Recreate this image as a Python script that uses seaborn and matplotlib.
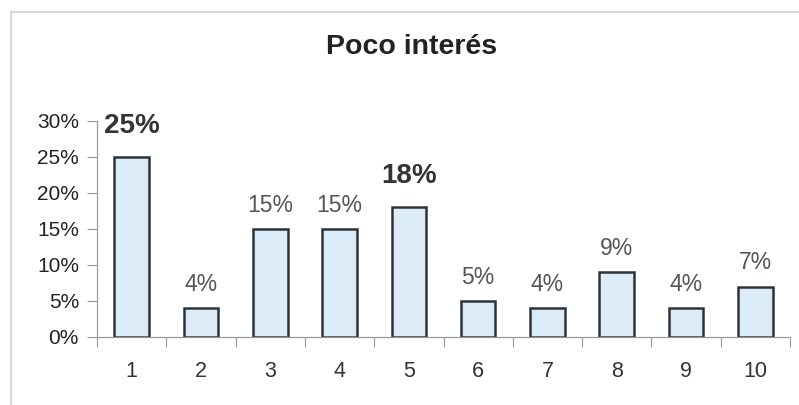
import matplotlib
matplotlib.use("Agg")
import matplotlib.pyplot as plt
from matplotlib.lines import Line2D
import seaborn as sns
import pandas as pd

# Survey answers: share of respondents per score (1-10)
categories = ["1", "2", "3", "4", "5", "6", "7", "8", "9", "10"]
shares = [25, 4, 15, 15, 18, 5, 4, 9, 4, 7]
highlight = ["1", "5"]  # scores whose labels are emphasised
yticks = [0, 5, 10, 15, 20, 25, 30]

df = pd.DataFrame({"score": categories, "share": shares})

sns.set_theme(style="white")
plt.rcParams["font.family"] = ["Liberation Sans", "DejaVu Sans"]

fig = plt.figure(figsize=(7.99, 4.05), dpi=100)
ax = fig.add_axes([97 / 799, 1 - 337 / 405, (790 - 97) / 799, (337 - 121) / 405])

sns.barplot(data=df, x="score", y="share", ax=ax, color="#DCEBF8",
            edgecolor="#2E3338", linewidth=1.8, width=0.5, saturation=1)

ax.set_xlim(-0.5, len(categories) - 0.5)
ax.set_ylim(0, 30)
ax.set_yticks(yticks)
ax.set_yticklabels([f"{v}%" for v in yticks], fontsize=15, color="#222222")
ax.set_xlabel("")
ax.set_ylabel("")

# category labels centred, tick marks drawn between categories
ax.tick_params(axis="x", which="major", length=0, pad=17, labelsize=15.5, labelcolor="#333333")
ax.set_xticks([i - 0.5 for i in range(len(categories) + 1)], minor=True)
ax.tick_params(axis="x", which="minor", bottom=True, length=7, width=0.8, color="#999999", direction="out")
ax.tick_params(axis="y", left=True, length=7, width=0.8, color="#999999", direction="out", pad=6)

for s in ["top", "right"]:
    ax.spines[s].set_visible(False)
for s in ["left", "bottom"]:
    ax.spines[s].set_color("#999999")
    ax.spines[s].set_linewidth(0.9)

# value labels above bars
for i, (cat, val) in enumerate(zip(categories, shares)):
    if cat in highlight:
        ax.annotate(f"{val}%", (i, val), xytext=(0, 13), textcoords="offset points",
                    ha="center", va="bottom", fontsize=20, fontweight="bold", color="#333333")
    else:
        ax.annotate(f"{val}%", (i, val), xytext=(0, 9), textcoords="offset points",
                    ha="center", va="bottom", fontsize=16.5, color="#555555")

fig.text(412 / 799, 1 - 47 / 405, "Poco interés", ha="center", va="center",
         fontsize=20.5, fontweight="bold", color="#222222")

# outer chart frame
fig.add_artist(Line2D([11 / 799, 11 / 799], [0, 1 - 12 / 405], transform=fig.transFigure,
                      color="#D8D8D8", lw=1.5))
fig.add_artist(Line2D([11 / 799, 1], [1 - 12 / 405, 1 - 12 / 405], transform=fig.transFigure,
                      color="#D8D8D8", lw=1.5))

fig.savefig("out.png", dpi=100)
